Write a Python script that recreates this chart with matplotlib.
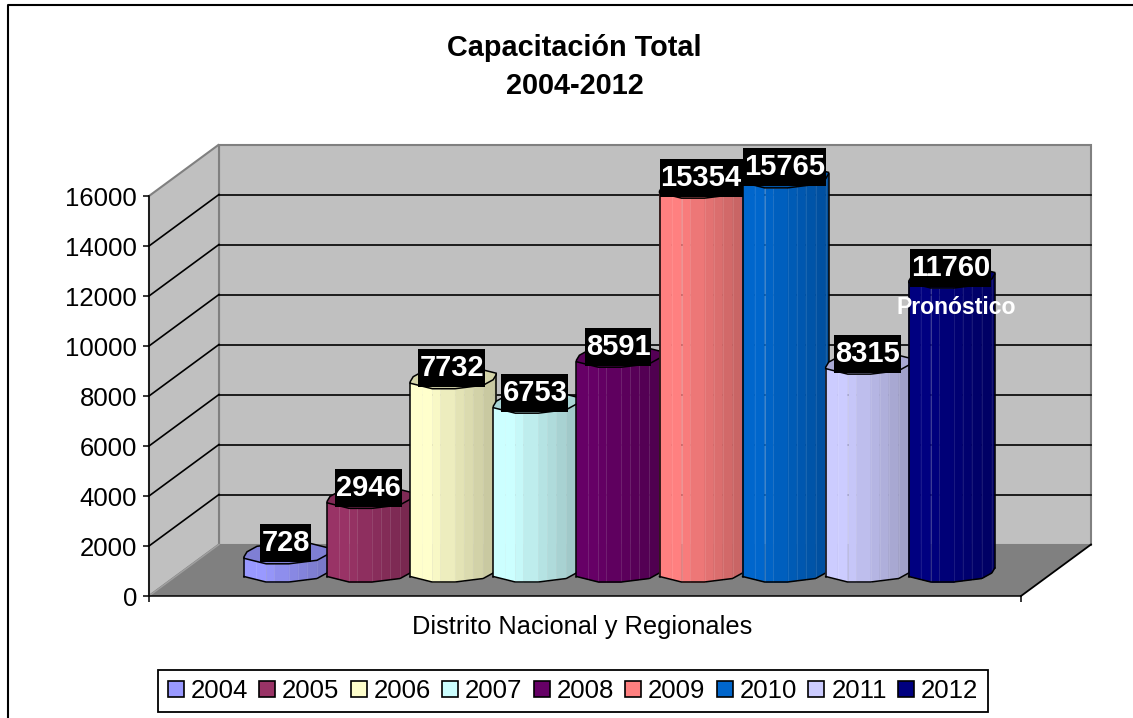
import numpy as np
import matplotlib
matplotlib.use("Agg")
import matplotlib.pyplot as plt
from matplotlib.patches import Polygon, Patch
from matplotlib.path import Path

plt.rcParams['font.family'] = ['Liberation Sans', 'DejaVu Sans']

# ---- data ----
years = ['2004', '2005', '2006', '2007', '2008', '2009', '2010', '2011', '2012']
values = [728, 2946, 7732, 6753, 8591, 15354, 15765, 8315, 11760]
colors = ['#9999FF', '#993366', '#FFFFCC', '#CCFFFF', '#660066', '#FF8080', '#0066CC', '#CCCCFF', '#000080']
y_ticks = [0, 2000, 4000, 6000, 8000, 10000, 12000, 14000, 16000]
title_text = 'Capacitación Total\n2004-2012'
x_label = 'Distrito Nacional y Regionales'
note_text = 'Pronóstico'

W, H = 1133, 718
fig = plt.figure(figsize=(W / 100, H / 100), dpi=100, facecolor='white')

# axes aligned to the front plane of the 3D box
L, R, T, B = 149, 1021, 196, 596
ax = fig.add_axes([L / W, (H - B) / H, (R - L) / W, (B - T) / H])
PX_CAT = 83.1
C0 = 287
xmin, xmax = (L - C0) / PX_CAT, (R - C0) / PX_CAT
ax.set_xlim(xmin, xmax)
ax.set_ylim(0, 16000)
ax.patch.set_visible(False)
UY = 40.0            # data units per pixel
ux = 1 / PX_CAT      # data units per pixel
DX, DY = 70 * ux, 51.5 * UY     # depth of box
top = y_ticks[-1]

# walls / floor
GW = '#C0C0C0'
GF = '#808080'
ax.add_patch(Polygon([(xmin + DX, DY), (xmax + DX, DY), (xmax + DX, top + DY), (xmin + DX, top + DY)],
                     fc=GW, ec=GF, lw=1.5, clip_on=False, zorder=1))
ax.add_patch(Polygon([(xmin, 0), (xmin + DX, DY), (xmin + DX, top + DY), (xmin, top)],
                     fc=GW, ec=GF, lw=1.5, clip_on=False, zorder=1))
ax.add_patch(Polygon([(xmin, 0), (xmax, 0), (xmax + DX, DY), (xmin + DX, DY)],
                     fc=GF, ec='none', clip_on=False, zorder=1.5))
ax.plot([xmax, xmax + DX], [0, DY], color='black', lw=1.3, clip_on=False, zorder=1.6)
ax.plot([xmin, xmin + DX], [0, DY], color='#A0A0A0', lw=1.0, clip_on=False, zorder=1.6)
for v in y_ticks[1:-1]:
    ax.plot([xmin, xmin + DX], [v, v + DY], color='black', lw=1.2, clip_on=False, zorder=2)
    ax.plot([xmin + DX, xmax + DX], [v + DY, v + DY], color='black', lw=1.2, clip_on=False, zorder=2)

# cylinder shape, in pixels around the centre of an end cap
LOW_X = np.array([-43, -21, 2, 30, 40, 43], float)
LOW_Y = np.array([5, 10.5, 10.5, 7, 1.5, -3.5], float)
BANDS = np.array([-43, -31, -21, -13, 2, 11, 20, 30, 40, 43], float)
BASE = 24.5 * UY


def shade(c, f):
    rgb = np.array(matplotlib.colors.to_rgb(c))
    return tuple(rgb * f)


def cap(i, yc):
    xs = np.r_[LOW_X, -LOW_X]
    ys = np.r_[LOW_Y, -LOW_Y]
    return np.c_[i + xs * ux, yc - ys * UY]


def low(i, yc, xs):
    return np.c_[i + xs * ux, yc - np.interp(xs, LOW_X, LOW_Y) * UY]


for i, (v, c) in enumerate(zip(values, colors)):
    z = 3 + i
    yb, yt = BASE, BASE + v
    for a, b in zip(BANDS[:-1], BANDS[1:]):
        mid = (a + b) / 2
        f = 1.0 - 0.24 * max(0.0, (mid + 25) / 68)
        pts = np.r_[low(i, yb, np.array([a, b])), low(i, yt, np.array([b, a]))]
        fc = shade(c, f)
        ax.add_patch(Polygon(pts, fc=fc, ec=fc, lw=0.4, clip_on=False, zorder=z))
        if a > -43:
            ax.plot([i + a * ux] * 2, [low(i, yb, np.array([a]))[0, 1], low(i, yt, np.array([a]))[0, 1]],
                    color='white', lw=0.6, alpha=0.12, clip_on=False, zorder=z)
    ax.add_patch(Polygon(cap(i, yt), fc=shade(c, 0.83), ec='black', lw=1.1, clip_on=False, zorder=z + 0.1))
    # outline of the side
    bot = low(i, yb, LOW_X)
    ax.plot(bot[:, 0], bot[:, 1], color='black', lw=1.1, clip_on=False, zorder=z + 0.1)
    ax.plot([i - 43 * ux] * 2, [yb - 5 * UY, yt - 5 * UY], color='black', lw=1.1, clip_on=False, zorder=z + 0.1)
    ax.plot([i + 43 * ux] * 2, [yb + 3.5 * UY, yt + 3.5 * UY], color='black', lw=1.1, clip_on=False, zorder=z + 0.1)


def label_box(x0, y0, w, h, mutation_size):
    # black plate, 38 px high, slightly wider than the digits
    cy = y0 + h / 2
    xa, xb = x0 - 1, x0 + w + 1
    ya, yb = cy - 19, cy + 19
    return Path([(xa, ya), (xb, ya), (xb, yb), (xa, yb), (xa, ya)], closed=True)


for i, v in enumerate(values):
    ax.annotate(str(v), xy=(i, BASE + v), xytext=(-1, 7.2), textcoords='offset points',
                ha='center', va='center', color='white', fontsize=21, fontweight='bold',
                bbox=dict(boxstyle=label_box, fc='black', ec='none'), zorder=20, annotation_clip=False)

ax.text(8.05, 11560, note_text, ha='center', va='center', color='white', fontsize=16.6,
        fontweight='bold', zorder=21)

# axes
for s in ['top', 'right']:
    ax.spines[s].set_visible(False)
for s in ['left', 'bottom']:
    ax.spines[s].set_linewidth(1.1)
    ax.spines[s].set_zorder(2.5)
ax.set_yticks(y_ticks)
ax.set_yticklabels([str(t) for t in y_ticks], fontsize=18.5)
ax.set_xticks([xmin, xmax])
ax.set_xticklabels([])
ax.tick_params(axis='both', length=4.5, width=1.1, color='black', pad=4)
ax.set_xlabel(x_label, fontsize=18.3, x=(582.5 - L) / (R - L), labelpad=5)

fig.text(574.5 / W, 1 - 67 / H, title_text, ha='center', va='center', fontsize=20.8,
         fontweight='bold', linespacing=1.5)

# legend
handles = [Patch(fc=c, ec='black', lw=1.2, label=y) for y, c in zip(years, colors)]
leg = fig.legend(handles=handles, ncol=len(years), loc='center', bbox_to_anchor=(573 / W, 1 - 691 / H),
                 fontsize=18.5, frameon=True, fancybox=False, edgecolor='black', framealpha=1,
                 handlelength=0.62, handleheight=0.62, handletextpad=0.27, columnspacing=0.44,
                 borderpad=0.36, borderaxespad=0)
leg.get_frame().set_linewidth(1.3)

# chart frame: left and top edges run off the image
fig.add_artist(plt.Line2D([8 / W, 8 / W, 1], [0, 1 - 5 / H, 1 - 5 / H],
                          color='black', lw=1.5, transform=fig.transFigure))

fig.savefig('out.png', dpi=100)
